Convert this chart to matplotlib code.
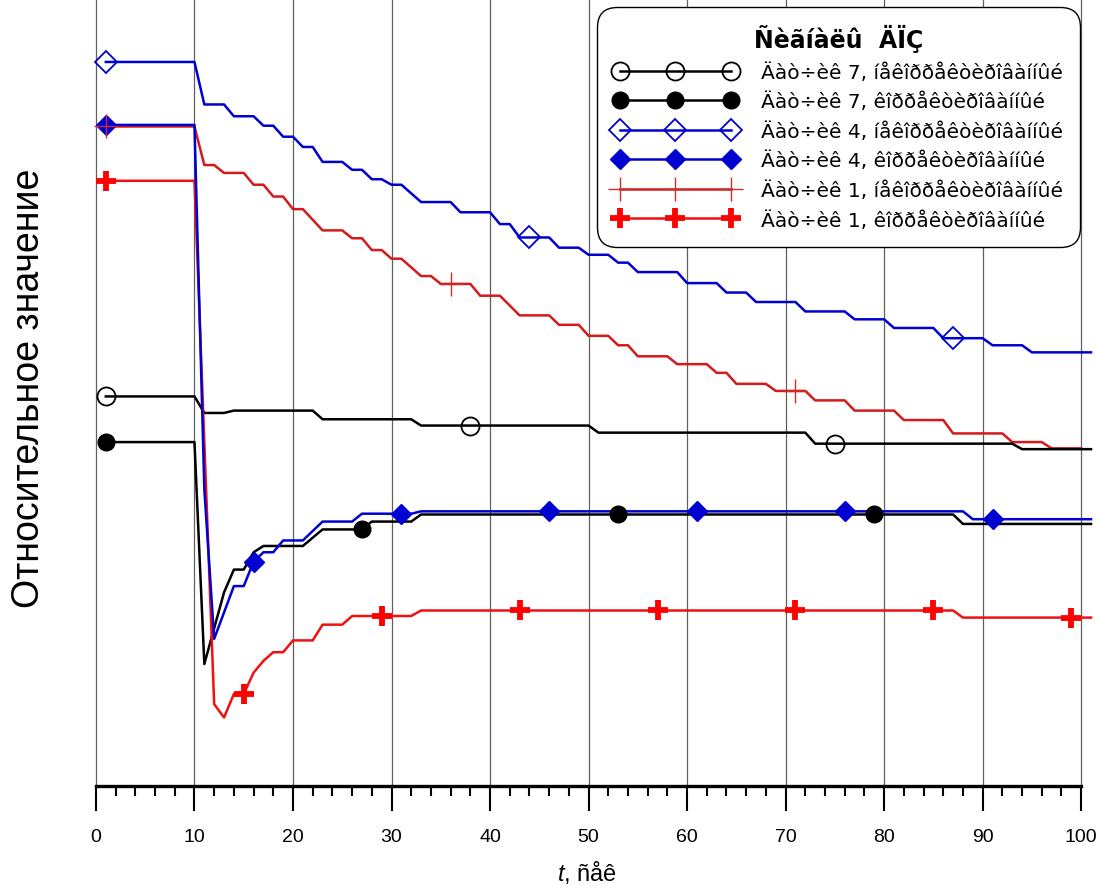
import matplotlib.pyplot as plt
from matplotlib.lines import Line2D
from matplotlib.ticker import MultipleLocator

plt.rcParams['font.family'] = ['Liberation Sans', 'DejaVu Sans']
plt.rcParams['mathtext.fontset'] = 'custom'
plt.rcParams['mathtext.it'] = 'Liberation Sans:italic'

# sensor 7, uncorrected (open circles)
t_k7u = [1, 10, 11, 13, 14, 22, 23, 32, 33, 50, 51, 72, 73, 93, 94, 101]
v_k7u = [0.495, 0.495, 0.474, 0.474, 0.477, 0.477, 0.466, 0.466, 0.458, 0.458,
         0.449, 0.449, 0.435, 0.435, 0.428, 0.428]
mk_t_k7u = [1, 38, 75]
mk_v_k7u = [0.495, 0.458, 0.435]

# sensor 7, corrected (filled circles)
t_k7c = [1, 10, 11, 13, 14, 15, 16, 17, 21, 23, 27, 28, 32, 33, 87, 88, 101]
v_k7c = [0.437, 0.437, 0.155, 0.246, 0.275, 0.275, 0.297, 0.305, 0.305, 0.326,
         0.326, 0.336, 0.336, 0.345, 0.345, 0.333, 0.333]
mk_t_k7c = [1, 27, 53, 79]
mk_v_k7c = [0.437, 0.326, 0.345, 0.345]

# sensor 4, uncorrected (open diamonds)
t_b4u = [1, 10, 11, 13, 14, 16, 17, 18, 19, 20, 21, 22, 23, 25, 26, 27, 28, 29,
         30, 31, 33, 36, 37, 40, 41, 42, 43, 46, 47, 49, 50, 52, 53, 54, 55, 59,
         60, 63, 64, 66, 67, 71, 72, 76, 77, 80, 81, 85, 86, 90, 91, 94, 95, 101]
v_b4u = [0.920, 0.920, 0.866, 0.866, 0.851, 0.851, 0.839, 0.839, 0.825, 0.825,
         0.812, 0.812, 0.793, 0.793, 0.783, 0.783, 0.771, 0.771, 0.764, 0.764,
         0.742, 0.742, 0.729, 0.729, 0.714, 0.714, 0.697, 0.697, 0.684, 0.684,
         0.675, 0.675, 0.665, 0.665, 0.653, 0.653, 0.639, 0.639, 0.627, 0.627,
         0.615, 0.615, 0.603, 0.603, 0.593, 0.593, 0.582, 0.582, 0.569, 0.569,
         0.560, 0.560, 0.551, 0.551]
mk_t_b4u = [1, 44, 87]
mk_v_b4u = [0.920, 0.697, 0.569]

# sensor 4, corrected (filled diamonds)
t_b4c = [1, 10, 11, 12, 14, 15, 16, 17, 18, 19, 21, 23, 26, 27, 32, 33, 88, 89, 101]
v_b4c = [0.840, 0.840, 0.377, 0.187, 0.254, 0.254, 0.285, 0.297, 0.297, 0.312,
         0.312, 0.336, 0.336, 0.346, 0.346, 0.349, 0.349, 0.339, 0.339]
mk_t_b4c = [1, 16, 31, 46, 61, 76, 91]
mk_v_b4c = [0.840, 0.285, 0.346, 0.349, 0.349, 0.349, 0.339]

# sensor 1, uncorrected (thin crosses)
t_r1u = [1, 10, 11, 12, 13, 15, 16, 17, 18, 19, 20, 21, 23, 25, 26, 27, 28, 29,
         30, 31, 33, 34, 35, 38, 39, 41, 43, 46, 47, 49, 50, 52, 53, 54, 55, 58,
         59, 62, 63, 64, 65, 68, 69, 72, 73, 76, 77, 81, 82, 86, 87, 92, 93, 96,
         97, 100]
v_r1u = [0.838, 0.838, 0.789, 0.789, 0.779, 0.779, 0.764, 0.764, 0.749, 0.749,
         0.733, 0.733, 0.706, 0.706, 0.696, 0.696, 0.681, 0.681, 0.670, 0.670,
         0.648, 0.648, 0.638, 0.638, 0.623, 0.623, 0.598, 0.598, 0.586, 0.586,
         0.572, 0.572, 0.560, 0.560, 0.546, 0.546, 0.536, 0.536, 0.525, 0.525,
         0.511, 0.511, 0.502, 0.502, 0.490, 0.490, 0.477, 0.477, 0.465, 0.465,
         0.448, 0.448, 0.437, 0.437, 0.429, 0.429]
mk_t_r1u = [1, 36, 71]
mk_v_r1u = [0.838, 0.638, 0.502]

# sensor 1, corrected (thick crosses)
t_r1c = [1, 10, 12, 13, 14, 15, 16, 17, 18, 19, 20, 22, 23, 25, 26, 32, 33, 87, 88, 101]
v_r1c = [0.769, 0.769, 0.104, 0.087, 0.117, 0.117, 0.144, 0.159, 0.170, 0.170,
         0.185, 0.185, 0.205, 0.205, 0.216, 0.216, 0.223, 0.223, 0.214, 0.214]
mk_t_r1c = [1, 15, 29, 43, 57, 71, 85, 99]
mk_v_r1c = [0.769, 0.117, 0.216, 0.223, 0.223, 0.223, 0.223, 0.214]

legend_title = 'Ñèãíàëû  ÄÏÇ'
labels = ['Äàò÷èê 7, íåêîððåêòèðîâàííûé',
          'Äàò÷èê 7, êîððåêòèðîâàííûé',
          'Äàò÷èê 4, íåêîððåêòèðîâàííûé',
          'Äàò÷èê 4, êîððåêòèðîâàííûé',
          'Äàò÷èê 1, íåêîððåêòèðîâàííûé',
          'Äàò÷èê 1, êîððåêòèðîâàííûé']

BLUE = '#0000d0'
RED_T = '#d41a1a'
RED = '#f01010'

fig = plt.figure(figsize=(10.97, 8.87), dpi=100)
# x=0 at px 96, x=100 at px 1081
ax = fig.add_axes([93 / 1097, 100 / 887, 1000 / 1097, 787 / 887])

lw = 1.8
# lines (red uncorrected under black at the end)
ax.plot(t_r1u, v_r1u, color=RED_T, lw=lw, zorder=2)
ax.plot(t_k7u, v_k7u, color='black', lw=lw, zorder=3)
ax.plot(t_k7c, v_k7c, color='black', lw=lw, zorder=3)
ax.plot(t_b4u, v_b4u, color=BLUE, lw=lw, zorder=3)
ax.plot(t_b4c, v_b4c, color=BLUE, lw=lw, zorder=4)
ax.plot(t_r1c, v_r1c, color=RED, lw=lw, zorder=3)

# markers
styles = [
    dict(marker='o', ms=13, mfc='none', mec='black', mew=1.3, color='black'),
    dict(marker='o', ms=12, mfc='black', mec='black', color='black'),
    dict(marker='D', ms=11, mfc='none', mec=BLUE, mew=1.3, color=BLUE),
    dict(marker='D', ms=10, mfc=BLUE, mec=BLUE, color=BLUE),
    dict(marker='+', ms=17, mec='#c83030', mew=1.0, color=RED_T),
    dict(marker='+', ms=14, mec='#ff0000', mew=4.2, color=RED),
]
mk_sets = [(mk_t_k7u, mk_v_k7u), (mk_t_k7c, mk_v_k7c), (mk_t_b4u, mk_v_b4u),
           (mk_t_b4c, mk_v_b4c), (mk_t_r1u, mk_v_r1u), (mk_t_r1c, mk_v_r1c)]
for (mt, mv), st in zip(mk_sets, styles):
    s = dict(st)
    s.pop('color')
    ax.plot(mt, mv, ls='none', zorder=5, **s)

handles = []
for st in styles:
    handles.append(Line2D([], [], lw=lw, **st))

leg = ax.legend(handles, labels, title=legend_title, loc='upper right',
                bbox_to_anchor=(0.987, 0.99), borderaxespad=0, numpoints=3,
                handlelength=6.1, handletextpad=1.2, labelspacing=0.5,
                prop={'family': 'DejaVu Sans', 'size': 14.5},
                title_fontproperties={'family': 'DejaVu Sans', 'weight': 'bold', 'size': 17},
                fancybox=True, framealpha=1, edgecolor='black', borderpad=0.85)
leg.get_frame().set_linewidth(1.0)
leg.get_frame().set_boxstyle('round', pad=0, rounding_size=1.0)
leg.set_zorder(10)

ax.set_xlim(-0.3, 101.2)
ax.set_ylim(0, 1)
ax.xaxis.set_major_locator(MultipleLocator(10))
ax.xaxis.set_minor_locator(MultipleLocator(2))
ax.grid(axis='x', which='major', color='#606060', lw=0.9)
ax.set_yticks([])
for side in ['left', 'right', 'top']:
    ax.spines[side].set_visible(False)
ax.spines['bottom'].set_bounds(0, 100)
ax.spines['bottom'].set_linewidth(2.4)
ax.tick_params(axis='x', which='major', direction='out', length=18, width=1.5,
               pad=12, labelsize=14)
ax.tick_params(axis='x', which='minor', direction='out', length=7.5, width=1.5)

fig.text(29 / 1097, 1 - 388 / 887, 'Относительное значение', rotation=90,
         ha='center', va='center', fontsize=27)
fig.text(587 / 1097, 1 - 873 / 887, '$t$, ñåê', ha='center', va='center',
         fontsize=17)

fig.savefig('out.png', dpi=100)
